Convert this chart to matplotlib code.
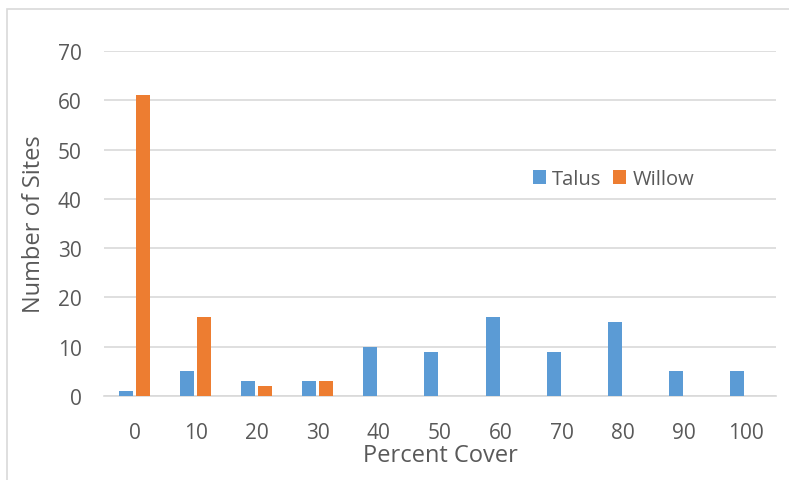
import matplotlib
matplotlib.use("Agg")
import matplotlib.pyplot as plt
from matplotlib.patches import Rectangle
import numpy as np

cover = ["0", "10", "20", "30", "40", "50", "60", "70", "80", "90", "100"]
talus = [1, 5, 3, 3, 10, 9, 16, 9, 15, 5, 5]
willow = [61, 16, 2, 3, 0, 0, 0, 0, 0, 0, 0]

blue = "#5B9BD5"
orange = "#ED7D31"
txt = "#595959"

plt.rcParams["font.family"] = ["Open Sans", "DejaVu Sans"]

W, H = 789, 481
fig = plt.figure(figsize=(W / 100, H / 100), dpi=100)
ax = fig.add_axes([104 / W, 1 - 397 / H, (776 - 104) / W, (397 - 52) / H])

# light chart border (left and top visible)
fig.patches.append(Rectangle((7 / W, -0.1), 1.2, 1 - 10 / H + 0.1,
                             transform=fig.transFigure, fill=False,
                             edgecolor="#d9d9d9", linewidth=1.2))

x = np.arange(len(cover))
w = 0.23
ax.bar(x - 0.14, talus, w, color=blue, label="Talus", zorder=3)
ax.bar(x + 0.14, willow, w, color=orange, label="Willow", zorder=3)

ax.set_xlim(-0.5, len(cover) - 0.5)
ax.set_ylim(0, 70)
ax.set_yticks(range(0, 71, 10))
ax.set_xticks(x)
ax.set_xticklabels(cover)
ax.yaxis.grid(True, color="#d9d9d9", linewidth=1.2, zorder=0)
ax.set_axisbelow(True)
for s in ["top", "right", "left"]:
    ax.spines[s].set_visible(False)
ax.spines["bottom"].set_color("#d9d9d9")
ax.spines["bottom"].set_linewidth(1.2)
ax.tick_params(length=0, labelsize=15, colors=txt)
ax.tick_params(axis="x", pad=19)
ax.tick_params(axis="y", pad=16)

ax.set_xlabel("Percent Cover", fontsize=17, color=txt, va="center")
ax.set_ylabel("Number of Sites", fontsize=17, color=txt, va="center")
ax.xaxis.set_label_coords(0.5, (397 - 456) / 345)
ax.yaxis.set_label_coords((34 - 104) / 672, 0.5)

ax.legend(loc="center", bbox_to_anchor=(0.758, 0.629), ncol=2, frameon=False,
          fontsize=14.5, labelcolor=txt, handlelength=0.65, handleheight=0.65,
          handletextpad=0.3, columnspacing=0.6)

fig.savefig("out.png", dpi=100)
